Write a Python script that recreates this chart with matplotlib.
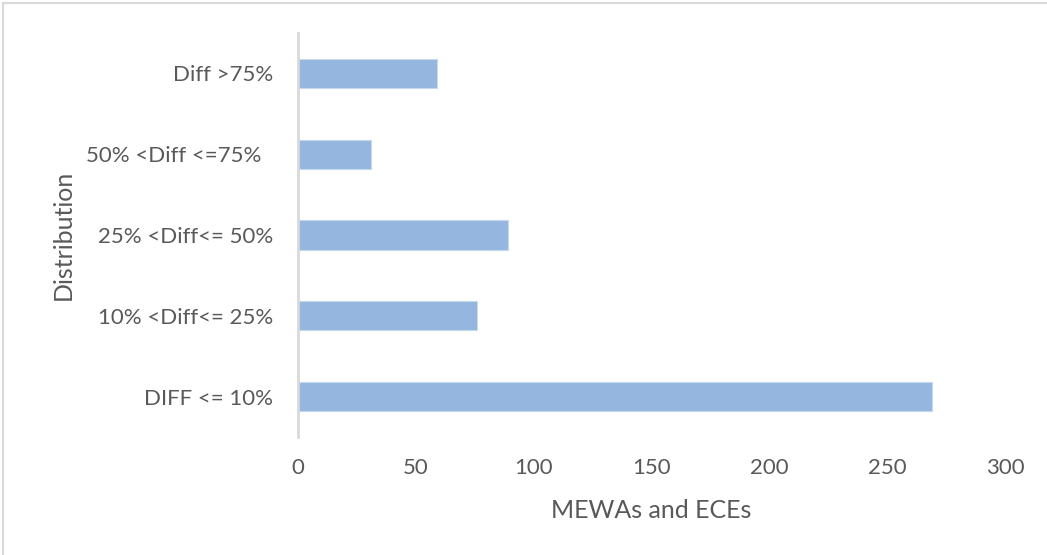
import matplotlib
matplotlib.use('Agg')
import matplotlib.pyplot as plt
from matplotlib.lines import Line2D

categories = ['DIFF <= 10%', '10% <Diff<= 25%', '25% <Diff<= 50%',
              '50% <Diff <=75%  ', 'Diff >75%']
counts = [269, 76, 89, 31, 59]
xticks = [0, 50, 100, 150, 200, 250, 300]

TXT = '#595959'
plt.rcParams['font.family'] = ['Lato', 'DejaVu Sans']

fig = plt.figure(figsize=(10.47, 5.55), dpi=100, facecolor='white')
ax = fig.add_axes([0.2846, 0.2126, 0.6753, 0.728])

ax.barh(range(len(categories)), counts, height=0.36, color='#95b7df',
        edgecolor='#c6d8ee', linewidth=0.8)
ax.set_xlim(0, 300)
ax.set_ylim(-0.5, len(categories) - 0.5)
ax.set_xticks(xticks)
ax.set_yticks(range(len(categories)))
ax.set_yticklabels(categories)
ax.tick_params(axis='both', length=0, colors=TXT, labelsize=16)
ax.tick_params(axis='x', pad=15)
ax.tick_params(axis='y', pad=18)

for s in ['top', 'right', 'bottom']:
    ax.spines[s].set_visible(False)
ax.spines['left'].set_color('#d9d9d9')
ax.spines['left'].set_linewidth(2)

ax.set_xlabel('MEWAs and ECEs', color=TXT, fontsize=18, labelpad=15.5)
ax.set_ylabel('Distribution', color=TXT, fontsize=18, labelpad=8)

# chart frame (top and left edges visible)
fig.add_artist(Line2D([0.003, 1.0], [0.994, 0.994], transform=fig.transFigure,
                      color='#d9d9d9', lw=1.5))
fig.add_artist(Line2D([0.003, 0.003], [0.0, 0.994], transform=fig.transFigure,
                      color='#d9d9d9', lw=1.5))

fig.savefig('out.png', dpi=100, facecolor='white')
